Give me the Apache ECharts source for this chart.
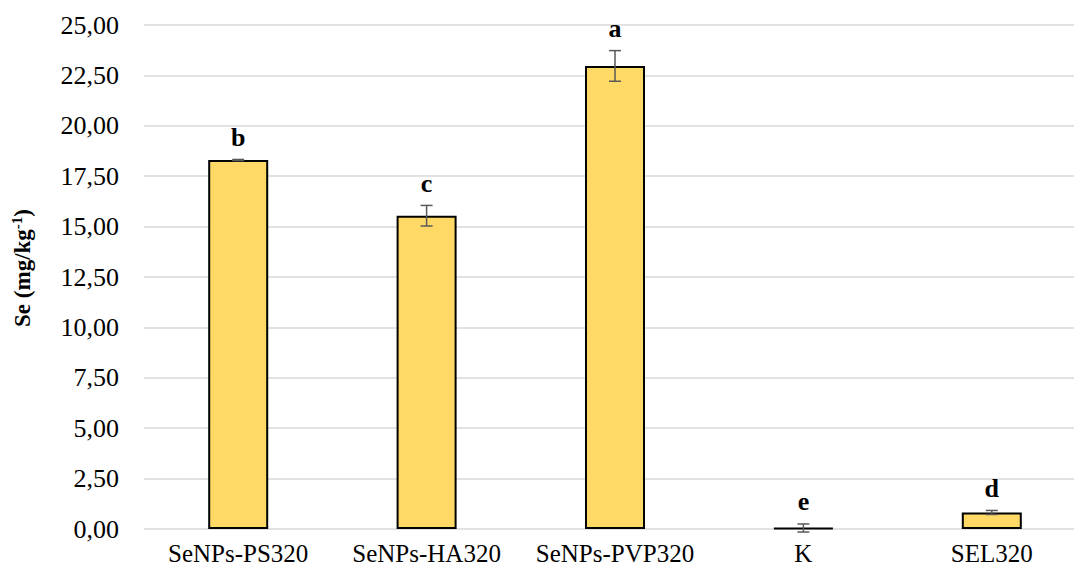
<!DOCTYPE html>
<html>
<head>
<meta charset="utf-8">
<script src="https://cdn.jsdelivr.net/npm/echarts@6/dist/echarts.min.js"></script>
<style>
  html, body { margin: 0; padding: 0; background: #fff; }
  #chart { width: 1074px; height: 571px; }
</style>
</head>
<body>
<div id="chart"></div>
<script>
const categories = ["SeNPs-PS320", "SeNPs-HA320", "SeNPs-PVP320", "K", "SEL320"];
const means = [18.30, 15.54, 22.97, 0.05, 0.82];
const errors = [0.03, 0.51, 0.76, 0.2, 0.1];
const letters = ["b", "c", "a", "e", "d"];
const yTicks = [0, 2.5, 5, 7.5, 10, 12.5, 15, 17.5, 20, 22.5, 25];

const serif = "'Liberation Serif', 'Times New Roman', serif";

const chart = echarts.init(document.getElementById("chart"), null, { renderer: "svg" });

const errData = means.map((m, i) => [i, m, errors[i]]);

const option = {
  animation: false,
  grid: {
    left: 144,
    right: -12,
    top: 25,
    bottom: 42,
    containLabel: false,
    outerBoundsMode: "none"
  },
  xAxis: {
    type: "category",
    data: categories,
    axisLine: { show: false },
    axisTick: { show: false },
    axisLabel: {
      interval: 0,
      margin: 12,
      color: "#000",
      fontFamily: serif,
      fontSize: 25
    }
  },
  yAxis: {
    type: "value",
    min: yTicks[0],
    max: yTicks[yTicks.length - 1],
    interval: 2.5,
    axisLine: { show: false },
    axisTick: { show: false },
    splitLine: { lineStyle: { color: "#d9d9d9", width: 1.5 } },
    axisLabel: {
      margin: 25,
      color: "#000",
      fontFamily: serif,
      fontSize: 26,
      formatter: v => v.toFixed(2).replace(".", ",")
    },
    name: "{t|Se (mg/kg}{s|-1}{t|)}",
    nameLocation: "middle",
    nameRotate: 90,
    nameGap: 108,
    nameTextStyle: {
      padding: [0, 0, 0, 18],
      rich: {
        t: { fontFamily: serif, fontSize: 23, fontWeight: "bold", color: "#000" },
        s: { fontFamily: serif, fontSize: 15, fontWeight: "bold", color: "#000", verticalAlign: "top", padding: [0, 0, 12, 0] }
      }
    }
  },
  series: [
    {
      type: "bar",
      data: means,
      barWidth: 60,
      itemStyle: { color: "#FFD966", borderColor: "#000", borderWidth: 2 },
      z: 2
    },
    {
      type: "custom",
      data: errData,
      z: 3,
      renderItem: function (params, api) {
        const i = api.value(0);
        const m = api.value(1);
        const e = api.value(2);
        const top = api.coord([i, m + e]);
        const bot = api.coord([i, m - e]);
        const x = top[0];
        const half = 6;
        const style = { stroke: "#595959", lineWidth: 1.5 };
        return {
          type: "group",
          children: [
            { type: "line", shape: { x1: x, y1: top[1], x2: x, y2: bot[1] }, style: style },
            { type: "line", shape: { x1: x - half, y1: top[1], x2: x + half, y2: top[1] }, style: style },
            { type: "line", shape: { x1: x - half, y1: bot[1], x2: x + half, y2: bot[1] }, style: style },
            {
              type: "text",
              x: x,
              y: top[1] - 22,
              style: {
                text: letters[params.dataIndex],
                fill: "#000",
                font: "bold 26px " + serif,
                align: "center",
                verticalAlign: "middle"
              }
            }
          ]
        };
      }
    }
  ]
};

chart.setOption(option);
</script>
</body>
</html>
